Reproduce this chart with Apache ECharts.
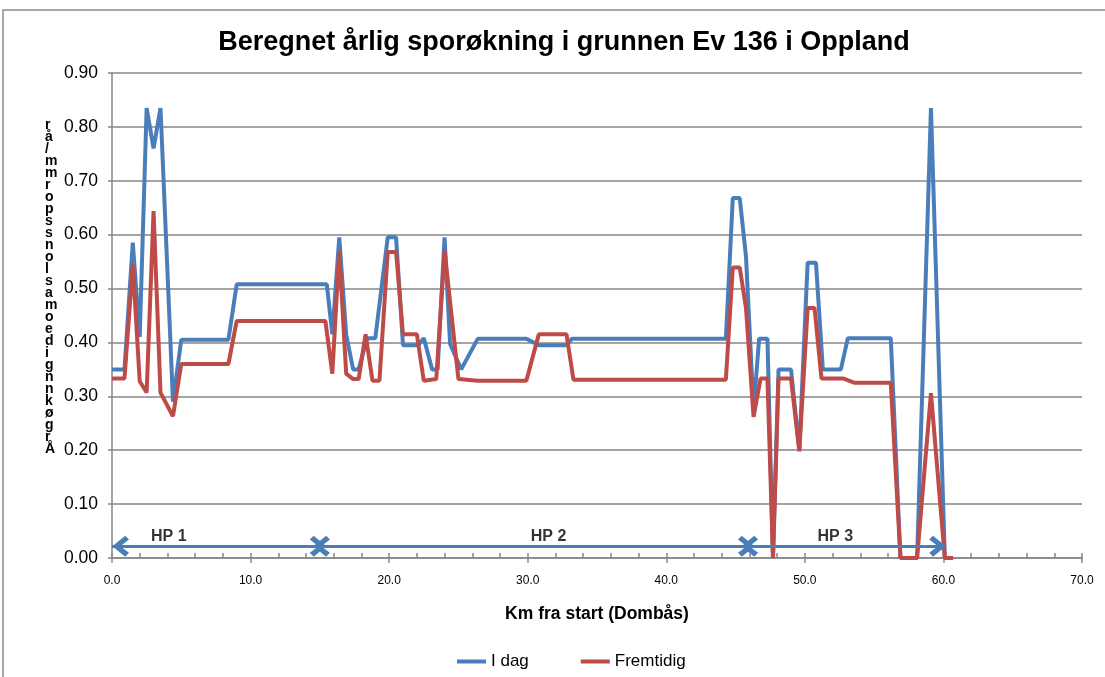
<!DOCTYPE html>
<html>
<head>
<meta charset="utf-8">
<script src="https://cdn.jsdelivr.net/npm/echarts@6/dist/echarts.min.js"></script>
<style>
  html, body { margin: 0; padding: 0; background: #fff; }
  #chart { width: 1105px; height: 677px; }
</style>
</head>
<body>
<div id="chart"></div>
<script>
// km fra start og årlig sporøkning, lest av figuren
var kmIdag = [0, 0.9, 1.5, 2.0, 2.5, 3.0, 3.5, 4.4, 5.0, 8.4, 9.0, 15.5, 15.9, 16.4, 16.9, 17.4, 17.8, 18.4, 19.0,
  19.9, 20.5, 21.0, 22.1, 22.5, 23.1, 23.5, 24.0, 24.4, 25.2, 26.4, 29.9, 30.8, 32.8, 33.2, 44.3, 44.8, 45.3,
  45.75, 46.3, 46.7, 47.3, 47.7, 48.1, 49.0, 49.6, 50.2, 50.8, 51.3, 52.6, 53.1, 56.2, 56.9, 58.1, 59.1, 60.1];
var idag = [0.35, 0.35, 0.585, 0.41, 0.835, 0.76, 0.835, 0.29, 0.405, 0.405, 0.508, 0.508, 0.415, 0.595, 0.415, 0.35, 0.35, 0.408, 0.408,
  0.595, 0.595, 0.395, 0.395, 0.408, 0.35, 0.35, 0.595, 0.397, 0.35, 0.407, 0.407, 0.395, 0.395, 0.407, 0.407, 0.668, 0.668,
  0.56, 0.275, 0.407, 0.407, 0, 0.35, 0.35, 0.2, 0.548, 0.548, 0.35, 0.35, 0.408, 0.408, 0, 0, 0.835, 0];

var kmFremtidig = [0, 0.9, 1.5, 2.0, 2.5, 3.0, 3.5, 4.4, 5.0, 8.4, 9.0, 15.4, 15.9, 16.4, 16.9, 17.4, 17.8, 18.3, 18.8,
  19.3, 19.9, 20.5, 21.0, 22.0, 22.5, 23.4, 24.0, 25.0, 26.4, 29.9, 30.8, 32.8, 33.3, 44.3, 44.8, 45.3, 45.75,
  46.3, 46.8, 47.3, 47.7, 48.1, 49.0, 49.6, 50.2, 50.7, 51.2, 52.8, 53.6, 56.2, 56.9, 58.1, 59.1, 60.1, 60.7];
var fremtidig = [0.333, 0.333, 0.545, 0.328, 0.307, 0.644, 0.307, 0.263, 0.36, 0.36, 0.44, 0.44, 0.342, 0.57, 0.342, 0.332, 0.332, 0.415, 0.329,
  0.329, 0.568, 0.568, 0.415, 0.415, 0.329, 0.332, 0.57, 0.332, 0.329, 0.329, 0.415, 0.415, 0.331, 0.331, 0.539, 0.539, 0.464,
  0.262, 0.333, 0.333, 0, 0.333, 0.333, 0.198, 0.464, 0.464, 0.333, 0.333, 0.325, 0.325, 0, 0, 0.306, 0, 0];

// hovedparseller (HP) langs veien, pilene overlapper ved skjøtene
var hpNavn = ['HP 1', 'HP 2', 'HP 3'];
var hpStart = [0, 14.5, 45.4];
var hpSlutt = [15.5, 46.4, 60.2];
var hpTekstKm = [4.1, 31.5, 52.2];
var hpPilNivaa = 0.022;
var hpTekstNivaa = 0.039;

var yTittel = 'rå/mmropssnolsamoedignnkøgrÅ';

var blaa = '#4A7EBB';
var roed = '#BE4B48';
var font = '"Liberation Sans", Arial, sans-serif';

function par(xs, ys) {
  var res = [];
  for (var i = 0; i < xs.length; i++) res.push([xs[i], ys[i]]);
  return res;
}

// åpen pilspiss med spissen midt i boksen (ekstra punkt øverst)
var pil = 'path://M5,10 L10,17.4 L8.2,19.6 L5,14.6 L1.8,19.6 L0,17.4 Z M5,0 L5.01,0 L5,0.01 Z';
var hpLinjer = [];
for (var i = 0; i < hpNavn.length; i++) {
  hpLinjer.push([{ coord: [hpStart[i], hpPilNivaa] }, { coord: [hpSlutt[i], hpPilNivaa] }]);
}

var chart = echarts.init(document.getElementById('chart'));
chart.setOption({
  animation: false,
  textStyle: { fontFamily: font },
  title: {
    text: 'Beregnet årlig sporøkning i grunnen Ev 136 i Oppland',
    left: 559, top: 24, textAlign: 'center',
    textStyle: { fontSize: 27, fontWeight: 'bold', color: '#000', fontFamily: font }
  },
  graphic: [
    {
      type: 'rect', silent: true, z: -1,
      shape: { x: 3, y: 10, width: 1110, height: 700 },
      style: { fill: null, stroke: '#8a8a8a', lineWidth: 1.5 }
    },
    {
      type: 'text', left: 45, top: 118, silent: true,
      style: {
        text: yTittel.split('').join('\n'),
        font: 'bold 14px ' + font, fill: '#000', lineHeight: 12, align: 'left'
      }
    }
  ],
  legend: {
    left: 452, top: 648,
    data: [{ name: 'I dag', icon: 'rect' }, { name: 'Fremtidig', icon: 'rect' }],
    itemWidth: 29, itemHeight: 4, itemGap: 52,
    textStyle: { fontSize: 17, color: '#000', fontFamily: font }
  },
  grid: { left: 112, right: 23, top: 73, bottom: 119 },
  xAxis: [
    {
      type: 'value', min: 0, max: 70, interval: 10,
      name: 'Km fra start (Dombås)', nameLocation: 'middle', nameGap: 47,
      nameTextStyle: { fontSize: 17.5, fontWeight: 'bold', color: '#000', fontFamily: font },
      axisLine: { show: true, lineStyle: { color: '#868686', width: 1.5 } },
      axisTick: { show: true, inside: true, length: 5, lineStyle: { color: '#868686', width: 1.5 } },
      minorTick: { show: true, splitNumber: 5, length: 5, lineStyle: { color: '#868686', width: 1.5 } },
      axisLabel: { fontSize: 12, color: '#000', margin: 17, formatter: function (v) { return v.toFixed(1); } },
      splitLine: { show: false }
    },
    {
      type: 'value', min: 0, max: 70, interval: 10, position: 'bottom',
      axisLine: { show: false },
      axisTick: { show: true, length: 5, lineStyle: { color: '#868686', width: 1.5 } },
      axisLabel: { show: false },
      splitLine: { show: false }
    }
  ],
  yAxis: {
    type: 'value', min: 0, max: 0.9, interval: 0.1,
    axisLine: { show: true, lineStyle: { color: '#868686', width: 1.5 } },
    axisTick: { show: true, length: 4, lineStyle: { color: '#868686', width: 1.5 } },
    axisLabel: { fontSize: 17.5, color: '#000', margin: 14, formatter: function (v) { return v.toFixed(2); } },
    splitLine: { show: true, lineStyle: { color: '#868686', width: 1.5 } }
  },
  series: [
    {
      name: 'I dag', type: 'line', symbol: 'none', z: 3,
      data: par(kmIdag, idag),
      lineStyle: { color: blaa, width: 4 },
      itemStyle: { color: blaa },
      markLine: {
        silent: true, symbol: [pil, pil], symbolSize: [21, 34],
        lineStyle: { color: blaa, width: 3, type: 'solid' },
        itemStyle: { color: blaa },
        label: { show: false },
        data: hpLinjer
      }
    },
    {
      name: 'Fremtidig', type: 'line', symbol: 'none', z: 4,
      data: par(kmFremtidig, fremtidig),
      lineStyle: { color: roed, width: 4 },
      itemStyle: { color: roed }
    },
    {
      name: 'HP', type: 'scatter', symbolSize: 0, silent: true, z: 5,
      data: par(hpTekstKm, [hpTekstNivaa, hpTekstNivaa, hpTekstNivaa]).map(function (d, i) {
        return { value: d, label: { formatter: hpNavn[i] } };
      }),
      label: {
        show: true, position: 'inside', fontSize: 16, fontWeight: 'bold', color: '#000', fontFamily: font
      }
    }
  ]
});
</script>
</body>
</html>
